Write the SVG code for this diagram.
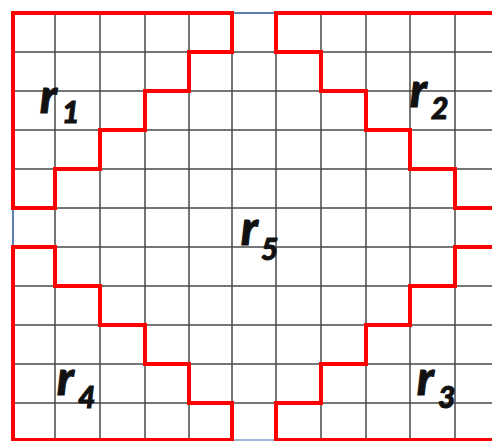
<svg xmlns="http://www.w3.org/2000/svg" width="492" height="441" viewBox="0 0 492 441">
<style>
.grid{stroke:#4a4a4a;stroke-width:1.5;fill:none}
.border{stroke:#5b7db0;stroke-width:2;fill:none}
.region{stroke:#ff0000;stroke-width:4;fill:none;stroke-linejoin:miter;stroke-linecap:square}
.lbl{font-family:Lato,"Open Sans","Liberation Sans",sans-serif;font-weight:900;font-style:italic;fill:#111;stroke:#111;stroke-width:1}
.r{font-size:47px}
.sub{font-size:30px}
</style>
<rect width="492" height="441" fill="#ffffff"/>
<g id="grid" class="grid">
<path d="M13,13V441M55,13V441M100,13V441M145,13V441M189,13V441M232,13V441M276,13V441M321,13V441M366,13V441M410,13V441M455,13V441"/>
<path d="M13,13H492M13,52H492M13,91H492M13,130H492M13,169H492M13,208H492M13,247H492M13,286H492M13,325H492M13,364H492M13,403H492"/>
</g>
<g id="borders" class="border">
<path d="M232,13H276"/>
<path d="M13,208V247"/>
<path d="M232,440H276" stroke="#9fb6d6"/>
</g>
<g id="regions">
<path id="r1" class="region" d="M13,208V13H232V52H189V91H145V130H100V169H55V208Z"/>
<path id="r2" class="region" d="M492,13H276V52H321V91H366V130H410V169H455V208H494"/>
<path id="r3" class="region" d="M494,247H455V286H410V325H366V364H321V403H276V440H494"/>
<path id="r4" class="region" d="M13,247H55V286H100V325H145V364H189V403H232V440H13Z"/>
</g>
<g id="labels" class="lbl">
<text id="label-r1"><tspan class="r" x="40" y="113">r</tspan><tspan class="sub" x="62" y="123">1</tspan></text>
<text id="label-r2"><tspan class="r" x="410" y="107">r</tspan><tspan class="sub" x="431" y="119">2</tspan></text>
<text id="label-r5"><tspan class="r" x="241" y="245">r</tspan><tspan class="sub" x="261" y="260">5</tspan></text>
<text id="label-r4"><tspan class="r" x="57" y="395">r</tspan><tspan class="sub" x="78" y="408">4</tspan></text>
<text id="label-r3"><tspan class="r" x="417" y="395">r</tspan><tspan class="sub" x="438" y="408">3</tspan></text>
</g>
</svg>
